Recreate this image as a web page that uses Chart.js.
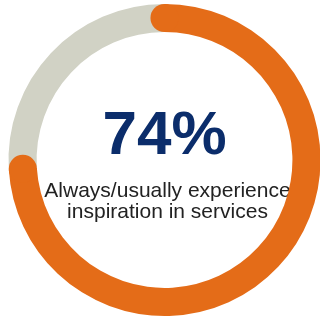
<!DOCTYPE html>
<html>
<head>
<meta charset="utf-8">
<script src="https://cdn.jsdelivr.net/npm/chart.js@4"></script>
<style>
  html, body { margin: 0; padding: 0; background: #fff; overflow: hidden; }
  #wrap { width: 320px; height: 321px; overflow: hidden; position: relative; }
  #donut { position: absolute; left: 0; top: 0; }
</style>
</head>
<body>
<div id="wrap"><canvas id="donut" width="330" height="321"></canvas></div>
<script>
"use strict";

// VARIABLES -----------------------
const labels = ["Always/usually", "Other"];
const values = [74, 26];
const bigLabel = "74%";
const caption = ["Always/usually experience", "inspiration in services"];

const colors = ['rgb(228, 108, 24)', 'rgb(209, 210, 197)'];

// draw center text under the ring, round caps on the orange arc
const centerText = {
  id: 'centerText',
  beforeDatasetsDraw(chart) {
    const arc = chart.getDatasetMeta(0).data[0];
    const ctx = chart.ctx;
    ctx.save();
    ctx.textAlign = 'center';
    ctx.textBaseline = 'alphabetic';
    ctx.fillStyle = '#0b2d6b';
    ctx.font = 'bold 62px "Liberation Sans", Arial, sans-serif';
    ctx.fillText(bigLabel, arc.x, 154);
    ctx.fillStyle = '#222';
    ctx.font = '21px "Liberation Sans", Arial, sans-serif';
    ctx.fillText(caption[0], arc.x + 3, 197);
    ctx.fillText(caption[1], arc.x + 3, 218);
    ctx.restore();
  },
  afterDatasetsDraw(chart) {
    const arc = chart.getDatasetMeta(0).data[0];
    const ctx = chart.ctx;
    const r = (arc.outerRadius + arc.innerRadius) / 2;
    const w = (arc.outerRadius - arc.innerRadius) / 2;
    ctx.save();
    ctx.fillStyle = colors[0];
    [arc.startAngle, arc.endAngle].forEach(function(a) {
      ctx.beginPath();
      ctx.arc(arc.x + r * Math.cos(a), arc.y + r * Math.sin(a), w, 0, Math.PI * 2);
      ctx.fill();
    });
    ctx.restore();
  }
};

// CHART -----------------------
const donut = new Chart(document.getElementById('donut'), {
  type: 'doughnut',
  data: {
    labels: labels,
    datasets: [{
      data: values,
      backgroundColor: colors,
      borderWidth: 0
    }]
  },
  options: {
    responsive: false,
    animation: false,
    cutout: '82%',
    layout: { padding: { left: 8, right: 9, top: 4, bottom: 5 } },
    plugins: {
      legend: { display: false },
      tooltip: { enabled: false }
    }
  },
  plugins: [centerText]
});
</script>
</body>
</html>
